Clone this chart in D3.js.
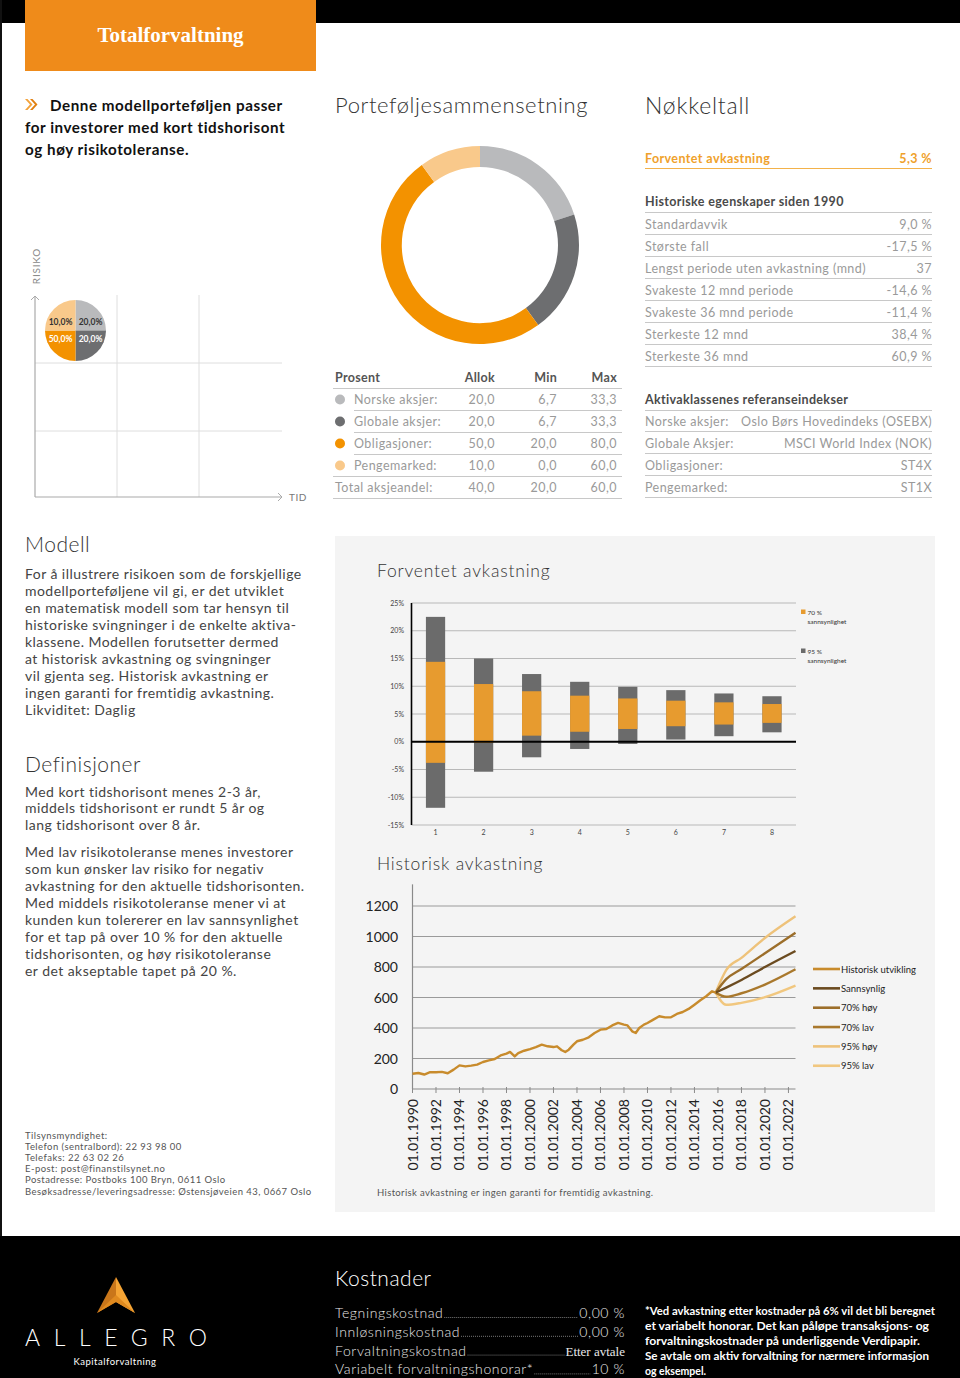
<!DOCTYPE html>
<html><head><meta charset="utf-8">
<script src="https://cdn.jsdelivr.net/npm/d3@7"></script>
<style>body{margin:0;background:#fff}svg{display:block}</style>
</head><body><svg id="c" width="960" height="1378"></svg>
<script>
// ---------------- DATA ----------------
const allocNames = ["Norske aksjer:", "Globale aksjer:", "Obligasjoner:", "Pengemarked:"];
const allocValues = [20.0, 20.0, 50.0, 10.0];
const allocMin = [6.7, 6.7, 20.0, 0.0];
const allocMax = [33.3, 33.3, 80.0, 60.0];
const allocColors = ["#b9babc", "#6d6e70", "#f39200", "#f9c98b"];
const totalLabel = "Total aksjeandel:";
const totalValues = [40.0, 20.0, 60.0];
const tableHeaders = ["Prosent", "Allok", "Min", "Max"];

const expectedLabel = "Forventet avkastning";
const expectedValue = "5,3 %";
const histPropLabels = ["Standardavvik", "Største fall", "Lengst periode uten avkastning (mnd)", "Svakeste 12 mnd periode", "Svakeste 36 mnd periode", "Sterkeste 12 mnd", "Sterkeste 36 mnd"];
const histPropValues = ["9,0 %", "-17,5 %", "37", "-14,6 %", "-11,4 %", "38,4 %", "60,9 %"];
const indexLabels = ["Norske aksjer:", "Globale Aksjer:", "Obligasjoner:", "Pengemarked:"];
const indexValues = ["Oslo Børs Hovedindeks (OSEBX)", "MSCI World Index (NOK)", "ST4X", "ST1X"];

const horizons = [1, 2, 3, 4, 5, 6, 7, 8];
const p95High = [22.5, 15.0, 12.2, 10.8, 9.9, 9.3, 8.7, 8.2];
const p70High = [14.4, 10.4, 9.1, 8.3, 7.8, 7.4, 7.1, 6.8];
const p70Low = [-3.8, -0.2, 1.1, 1.8, 2.3, 2.8, 3.1, 3.4];
const p95Low = [-11.9, -5.4, -2.8, -1.3, -0.4, 0.4, 1.0, 1.7];
const barTicks = [-15, -10, -5, 0, 5, 10, 15, 20, 25];

const histYears = [1990, 1990.5, 1991, 1991.5, 1992, 1992.5, 1993, 1993.5, 1994, 1994.5, 1995, 1995.5, 1996, 1996.5, 1997, 1997.5, 1998, 1998.3, 1998.7, 1999, 1999.5, 2000, 2000.5, 2001, 2001.5, 2002, 2002.3, 2002.7, 2003, 2003.3, 2003.7, 2004, 2004.5, 2005, 2005.5, 2006, 2006.5, 2007, 2007.5, 2008, 2008.3, 2008.7, 2009, 2009.3, 2009.7, 2010, 2010.5, 2011, 2011.5, 2012, 2012.5, 2013, 2013.5, 2014, 2014.5, 2015, 2015.5, 2015.8];
const histValues = [100, 105, 95, 110, 110, 112, 103, 127, 155, 148, 153, 160, 177, 188, 197, 220, 232, 243, 214, 236, 251, 262, 275, 291, 280, 275, 280, 254, 243, 258, 291, 313, 323, 339, 367, 389, 393, 417, 433, 422, 417, 378, 367, 400, 422, 433, 455, 477, 470, 470, 492, 505, 525, 553, 582, 608, 641, 632];
const projYears = [2015.8, 2016.7, 2018, 2020, 2022.6];
const projSannsynlig = [632, 665, 715, 800, 905];
const proj70High = [632, 720, 787, 890, 1025];
const proj70Low = [632, 605, 628, 685, 785];
const proj95High = [632, 780, 860, 990, 1132];
const proj95Low = [632, 552, 565, 602, 678];
const histLegend = ["Historisk utvikling", "Sannsynlig", "70% høy", "70% lav", "95% høy", "95% lav"];
const histYTicks = [0, 200, 400, 600, 800, 1000, 1200];
const histXTicks = [1990, 1992, 1994, 1996, 1998, 2000, 2002, 2004, 2006, 2008, 2010, 2012, 2014, 2016, 2018, 2020, 2022];

const costLabels = ["Tegningskostnad", "Innløsningskostnad", "Forvaltningskostnad", "Variabelt forvaltningshonorar*"];
const costValues = ["0,00 %", "0,00 %", "Etter avtale", "10 %"];

const introLines = ["Denne modellporteføljen passer", "for investorer med kort tidshorisont", "og høy risikotoleranse."];
const modellLines = ["For å illustrere risikoen som de forskjellige", "modellporteføljene vil gi, er det utviklet", "en matematisk modell som tar hensyn til", "historiske svingninger i de enkelte aktiva-", "klassene. Modellen forutsetter dermed", "at historisk avkastning og svingninger", "vil gjenta seg. Historisk avkastning er", "ingen garanti for fremtidig avkastning.", "Likviditet: Daglig"];
const defLines1 = ["Med kort tidshorisont menes 2-3 år,", "middels tidshorisont er rundt 5 år og", "lang tidshorisont over 8 år."];
const defLines2 = ["Med lav risikotoleranse menes investorer", "som kun ønsker lav risiko for negativ", "avkastning for den aktuelle tidshorisonten.", "Med middels risikotoleranse mener vi at", "kunden kun tolererer en lav sannsynlighet", "for et tap på over 10 % for den aktuelle", "tidshorisonten, og høy risikotoleranse", "er det akseptable tapet på 20 %."];
const footerLines = ["Tilsynsmyndighet:", "Telefon (sentralbord): 22 93 98 00", "Telefaks: 22 63 02 26", "E-post: post@finanstilsynet.no", "Postadresse: Postboks 100 Bryn, 0611 Oslo", "Besøksadresse/leveringsadresse: Østensjøveien 43, 0667 Oslo"];
const noteLines = ["*Ved avkastning etter kostnader på 6% vil det bli beregnet", "et variabelt honorar. Det kan påløpe transaksjons- og", "forvaltningskostnader på underliggende Verdipapir.", "Se avtale om aktiv forvaltning for nærmere informasjon", "og eksempel."];

// ---------------- DRAW ----------------
const svg = d3.select("#c");
const SANS = "Lato, 'Open Sans', sans-serif";
const fmt = v => v.toFixed(1).replace(".", ",");

function T(x, y, s, size, fill, o = {}) {
  const t = svg.append("text").attr("x", x).attr("y", y).text(s)
    .attr("font-family", o.family || SANS).attr("font-size", size).attr("fill", fill)
    .attr("font-weight", o.weight || 400).attr("text-anchor", o.anchor || "start");
  if (o.ls) t.attr("letter-spacing", o.ls);
  return t;
}
function L(x1, y1, x2, y2, c, w = 1) {
  return svg.append("line").attr("x1", x1).attr("y1", y1).attr("x2", x2).attr("y2", y2).attr("stroke", c).attr("stroke-width", w);
}

svg.append("rect").attr("width", 960).attr("height", 1378).attr("fill", "#fff");
svg.append("rect").attr("width", 960).attr("height", 23).attr("fill", "#000");
svg.append("rect").attr("width", 2).attr("height", 1378).attr("fill", "#111");
svg.append("rect").attr("x", 25).attr("y", 0).attr("width", 291).attr("height", 71).attr("fill", "#ef8b1a");
T(170.5, 42, "Totalforvaltning", 21, "#fff", { family: "'Liberation Serif', serif", weight: 700, anchor: "middle" });

// intro
svg.append("path").attr("d", "M25,99 L30,104.5 L25,110 L27.5,110 L32.5,104.5 L27.5,99Z").attr("fill", "#f3a23a");
svg.append("path").attr("d", "M30,99 L35,104.5 L30,110 L32.5,110 L37.5,104.5 L32.5,99Z").attr("fill", "#e07f10");
introLines.forEach((s, i) => T(i === 0 ? 50 : 25, 111 + 22 * i, s, 15.2, "#111", { weight: 700, ls: 0.55 }));

// titles
T(335, 113, "Porteføljesammensetning", 22, "#333", { weight: 300, ls: 0.6 });
T(645, 114, "Nøkkeltall", 23, "#333", { weight: 300, ls: 0.8 });

// ---------- risk chart ----------
const gridC = "#dedede";
[117, 199].forEach(x => L(x, 295, x, 497, gridC));
[363, 431].forEach(y => L(35, y, 282, y, gridC));
L(35, 497, 35, 296, "#aaa", 1.2);
L(35, 497, 282, 497, "#aaa", 1.2);
svg.append("path").attr("d", "M31,300 L35,296 L39,300").attr("fill", "none").attr("stroke", "#aaa");
svg.append("path").attr("d", "M278,493 L282,497 L278,501").attr("fill", "none").attr("stroke", "#aaa");
T(0, 0, "RISIKO", 10, "#888", { anchor: "middle", ls: 0.8 }).attr("transform", "translate(39.5,266) rotate(-90)");
T(289, 501, "TID", 10, "#777", { ls: 0.5 });

const riskCx = 75.5, riskCy = 330.5, riskR = 30.5;
const riskPie = d3.pie().sort(null).value(() => 1)(allocValues);
const riskArc = d3.arc().innerRadius(0).outerRadius(riskR);
const rg = svg.append("g").attr("transform", `translate(${riskCx},${riskCy})`);
rg.selectAll("path").data(riskPie).join("path").attr("d", riskArc).attr("fill", (d, i) => allocColors[i]);
rg.selectAll("text").data(riskPie).join("text")
  .attr("x", d => riskArc.centroid(d)[0] > 0 ? 15 : -15)
  .attr("y", d => riskArc.centroid(d)[1] > 0 ? 11 : -6)
  .attr("text-anchor", "middle").attr("font-family", SANS).attr("font-size", 8.5).attr("font-weight", 700)
  .attr("fill", (d, i) => (i === 1 || i === 2) ? "#fff" : "#333")
  .text((d, i) => fmt(allocValues[i]) + "%");

// ---------- donut ----------
const donutPie = d3.pie().sort(null).value(d => d)(allocValues);
const donutArc = d3.arc().innerRadius(78).outerRadius(99);
svg.append("g").attr("transform", "translate(480,245)").selectAll("path").data(donutPie).join("path")
  .attr("d", donutArc).attr("fill", (d, i) => allocColors[i]);

// ---------- allocation table ----------
const TS = 12.5, TLS = 0.45;
const colX = [335, 495, 557, 617];
tableHeaders.forEach((h, j) => T(colX[j], 382, h, 12.5, "#555", { weight: 700, anchor: j ? "end" : "start", ls: 0.3 }));
L(333, 388.5, 622, 388.5, "#c8c8c8");
allocNames.forEach((n, i) => {
  const y = 399.5 + 22 * i;
  svg.append("circle").attr("cx", 340).attr("cy", y).attr("r", 5).attr("fill", allocColors[i]);
  T(354, y + 4.5, n, TS, "#9a9a9a", { ls: TLS });
  T(colX[1], y + 4.5, fmt(allocValues[i]), TS, "#9a9a9a", { anchor: "end", ls: TLS });
  T(colX[2], y + 4.5, fmt(allocMin[i]), TS, "#9a9a9a", { anchor: "end", ls: TLS });
  T(colX[3], y + 4.5, fmt(allocMax[i]), TS, "#9a9a9a", { anchor: "end", ls: TLS });
  L(i < 3 ? 354 : 333, y + 11, 622, y + 11, "#c8c8c8");
});
{
  const y = 399.5 + 22 * 4;
  T(335, y + 4.5, totalLabel, TS, "#9a9a9a", { ls: TLS });
  totalValues.forEach((v, j) => T(colX[j + 1], y + 4.5, fmt(v), TS, "#9a9a9a", { anchor: "end", ls: TLS }));
  L(333, y + 11, 622, y + 11, "#c8c8c8");
}

// ---------- key figures ----------
T(645, 162.5, expectedLabel, 12.5, "#efa12b", { weight: 700, ls: 0.4 });
T(932, 162.5, expectedValue, 12.5, "#efa12b", { weight: 700, anchor: "end", ls: 0.4 });
L(645, 168.5, 932, 168.5, "#f3b24a");
T(645, 206, "Historiske egenskaper siden 1990", 12.5, "#4a4a4a", { weight: 700, ls: 0.35 });
L(645, 212.5, 932, 212.5, "#c8c8c8");
histPropLabels.forEach((s, i) => {
  const y = 224 + 22 * i;
  T(645, y + 4.5, s, TS, "#9a9a9a", { ls: TLS });
  T(932, y + 4.5, histPropValues[i], TS, "#9a9a9a", { anchor: "end", ls: TLS });
  L(645, y + 10.5, 932, y + 10.5, "#c8c8c8");
});
T(645, 404, "Aktivaklassenes referanseindekser", 12.5, "#4a4a4a", { weight: 700, ls: 0.35 });
L(645, 410.5, 932, 410.5, "#c8c8c8");
indexLabels.forEach((s, i) => {
  const y = 421 + 22 * i;
  T(645, y + 4.5, s, TS, "#9a9a9a", { ls: TLS });
  T(932, y + 4.5, indexValues[i], TS, "#9a9a9a", { anchor: "end", ls: TLS });
  L(645, y + 10.5, 932, y + 10.5, "#c8c8c8");
});

// ---------- left texts ----------
const PS = 14, PLS = 0.45;
T(25, 552, "Modell", 21, "#333", { weight: 300, ls: 0.5 });
modellLines.forEach((s, i) => T(25, 579 + 16.95 * i, s, PS, "#444", { ls: PLS }));
T(25, 772, "Definisjoner", 21, "#333", { weight: 300, ls: 0.5 });
defLines1.forEach((s, i) => T(25, 796.5 + 16.7 * i, s, PS, "#444", { ls: PLS }));
defLines2.forEach((s, i) => T(25, 856.5 + 17 * i, s, PS, "#444", { ls: PLS }));
footerLines.forEach((s, i) => T(25, 1139 + 11.1 * i, s, 9.5, "#555", { ls: 0.45 }));

// ---------- grey panel ----------
svg.append("rect").attr("x", 335).attr("y", 536).attr("width", 600).attr("height", 676).attr("fill", "#f4f4f4");
T(377, 577, "Forventet avkastning", 17.5, "#333", { weight: 300, ls: 0.8 });
T(377, 870, "Historisk avkastning", 17.5, "#333", { weight: 300, ls: 0.8 });

// bar chart
const bx = d3.scaleBand().domain(horizons).range([411.5, 796]).paddingInner(0.6).paddingOuter(0.3);
const by = d3.scaleLinear().domain([-15, 25]).range([825, 603]);
barTicks.forEach(t => {
  if (t !== 0) L(411.5, by(t), 796, by(t), "#b8b8b8", 1);
  T(404, by(t) + 2.5, t + "%", 7, "#444", { anchor: "end" });
});
const bars = svg.append("g");
horizons.forEach((h, i) => {
  bars.append("rect").attr("x", bx(h)).attr("width", bx.bandwidth())
    .attr("y", by(p95High[i])).attr("height", by(p95Low[i]) - by(p95High[i])).attr("fill", "#6b6b6b");
  bars.append("rect").attr("x", bx(h)).attr("width", bx.bandwidth())
    .attr("y", by(p70High[i])).attr("height", by(p70Low[i]) - by(p70High[i])).attr("fill", "#e79b2f");
  T(bx(h) + bx.bandwidth() / 2, 834.5, String(h), 7, "#444", { anchor: "middle" });
});
L(411.5, by(0), 796, by(0), "#000", 2);
L(411.5, by(25), 411.5, by(-15), "#000", 1.6);
svg.append("rect").attr("x", 801).attr("y", 609.5).attr("width", 4.5).attr("height", 4.5).attr("fill", "#e79b2f");
T(807.5, 614.5, "70 %", 6.5, "#333"); T(807.5, 623.5, "sannsynlighet", 6.5, "#333");
svg.append("rect").attr("x", 801).attr("y", 648.5).attr("width", 4.5).attr("height", 4.5).attr("fill", "#6b6b6b");
T(807.5, 653.5, "95 %", 6.5, "#333"); T(807.5, 662.5, "sannsynlighet", 6.5, "#333");

// historical chart
const hx = d3.scaleLinear().domain([1990, 2022.6]).range([412.5, 795.5]);
const hy = d3.scaleLinear().domain([0, 1200]).range([1089, 906]);
histYTicks.forEach(t => {
  if (t > 0) L(412.5, hy(t), 795.5, hy(t), "#9a9a9a", 1);
  T(398, hy(t) + 5, String(t), 14, "#222", { anchor: "end" });
});
L(412.5, hy(1342), 412.5, hy(0), "#8a8a8a", 1.2);
L(412.5, hy(0), 795.5, hy(0), "#8a8a8a", 1.2);
histXTicks.forEach(t => {
  L(hx(t), hy(0) - 2, hx(t), hy(0) + 4, "#8a8a8a", 1);
  T(0, 0, "01.01." + t, 14, "#222", { anchor: "end" })
    .attr("transform", `translate(${hx(t) + 5},1099) rotate(-90)`);
});
const lineGen = d3.line().x(d => hx(d[0])).y(d => hy(d[1]));
const smoothGen = d3.line().x(d => hx(d[0])).y(d => hy(d[1])).curve(d3.curveMonotoneX);
const projSeries = [
  { v: proj95Low, c: "#f1c77f" },
  { v: proj95High, c: "#eec27a" },
  { v: proj70Low, c: "#a9782c" },
  { v: proj70High, c: "#9c6e2a" },
  { v: projSannsynlig, c: "#6b4b20" }
];
projSeries.forEach(s => svg.append("path").attr("d", smoothGen(projYears.map((y, i) => [y, s.v[i]])))
  .attr("fill", "none").attr("stroke", s.c).attr("stroke-width", 2.4));
svg.append("path").attr("d", lineGen(histYears.map((y, i) => [y, histValues[i]])))
  .attr("fill", "none").attr("stroke", "#c88b2c").attr("stroke-width", 2.4).attr("stroke-linejoin", "round");
const legendColors = ["#c88b2c", "#6b4b20", "#9c6e2a", "#a9782c", "#eec27a", "#f1c77f"];
histLegend.forEach((s, i) => {
  const y = 969 + 19.35 * i;
  L(813, y, 840, y, legendColors[i], 2.6);
  T(841, y + 3.5, s, 9.5, "#222");
});
T(377, 1195.5, "Historisk avkastning er ingen garanti for fremtidig avkastning.", 9.5, "#555", { ls: 0.35 });

// ---------- bottom band ----------
svg.append("rect").attr("x", 0).attr("y", 1236).attr("width", 960).attr("height", 142).attr("fill", "#000");
svg.append("path").attr("d", "M116,1277 L97,1313 L116,1302Z").attr("fill", "#c9761a");
svg.append("path").attr("d", "M116,1277 L135,1313 L116,1302Z").attr("fill", "#f5a434");
svg.append("path").attr("d", "M97,1313 L116,1302 L135,1313 L116,1295 Z").attr("fill", "#e08a1f");
T(25, 1346, "ALLEGRO", 23, "#fff", { weight: 300 }).attr("textLength", 182).attr("lengthAdjust", "spacing");
T(115, 1364.5, "Kapitalforvaltning", 9.5, "#fff", { anchor: "middle", ls: 0.5 });
T(335, 1285.5, "Kostnader", 21, "#fff", { weight: 300, ls: 0.5 });
costLabels.forEach((s, i) => {
  const y = 1318 + 18.8 * i;
  const lt = T(335, y, s, 14, "#e8e8e8", { weight: 300, ls: 0.6 });
  const vt = (i === 2)
    ? T(625, y, costValues[i], 13, "#e8e8e8", { family: "'Liberation Serif', serif", anchor: "end" })
    : T(625, y, costValues[i], 14, "#e8e8e8", { weight: 300, anchor: "end", ls: 0.6 });
  const x0 = 335 + lt.node().getComputedTextLength() + 1;
  const x1 = 625 - vt.node().getComputedTextLength() - 1;
  L(x0, y - 0.5, x1, y - 0.5, "#bbb", 0.8).attr("stroke-dasharray", "0.8,1.2");
});
const noteW = [290, 284, 275, 284, null];
noteLines.forEach((s, i) => {
  const t = T(645, 1315 + 15 * i, s, 10.5, "#fff", { weight: 700 });
  if (noteW[i]) t.attr("textLength", noteW[i]).attr("lengthAdjust", "spacingAndGlyphs");
});
</script></body></html>
